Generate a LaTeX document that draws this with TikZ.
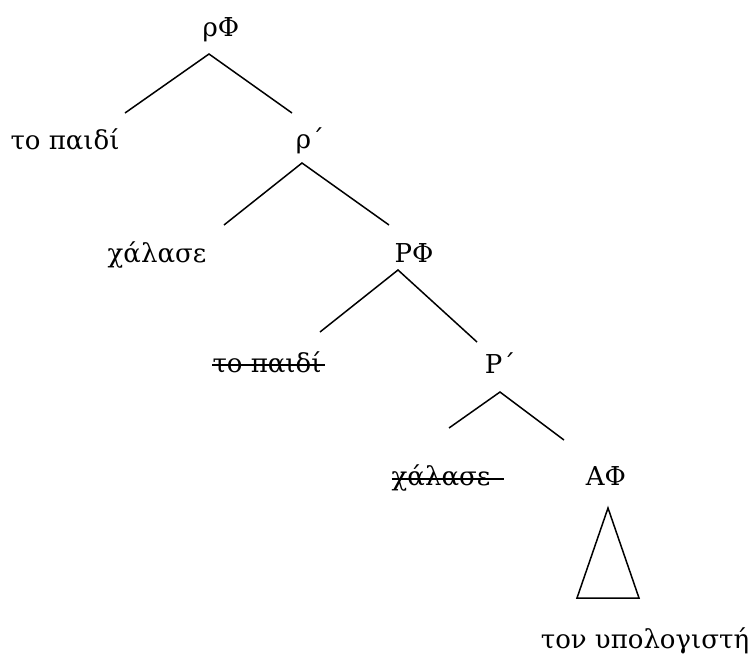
\documentclass[tikz,border=0pt]{standalone}
\usepackage{fontspec}
\setmainfont{DejaVu Serif}
\begin{document}
\begin{tikzpicture}[
    x=1pt, y=-1pt,
    font=\fontsize{26}{31}\selectfont,
    lbl/.style={anchor=base, inner sep=0pt},
    kante/.style={line width=1.5pt},
    strich/.style={line width=1.4pt}
  ]
  \useasboundingbox (0,0) rectangle (753,664);
  % labels
  \node[lbl] (rphi) at (221,36) {ρΦ};
  \node[lbl] (paidi) at (65,149) {το παιδί};
  \node[lbl] (rbar) at (310,148) {ρ΄};
  \node[lbl] (halase) at (157,262) {χάλασε};
  \node[lbl] (Pphi) at (414,262) {PΦ};
  \node[lbl] (paidit) at (267,372) {το παιδί};
  \node[lbl] (Pbar) at (500,373) {P΄};
  \node[lbl] (halaset) at (441,485) {χάλασε};
  \node[lbl] (Aphi) at (606,485) {AΦ};
  \node[lbl] (ypol) at (645,648) {τον υπολογιστή};
  % branch points
  \coordinate (k1) at (209,54);   \coordinate (k1l) at (125,113); \coordinate (k1r) at (292,113);
  \coordinate (k2) at (302,163);  \coordinate (k2l) at (224,225); \coordinate (k2r) at (389,225);
  \coordinate (k3) at (398,270);  \coordinate (k3l) at (320,332); \coordinate (k3r) at (477,342);
  \coordinate (k4) at (500,392);  \coordinate (k4l) at (449,428); \coordinate (k4r) at (564,440);
  \draw[kante] (k1l) -- (k1) -- (k1r);
  \draw[kante] (k2l) -- (k2) -- (k2r);
  \draw[kante] (k3l) -- (k3) -- (k3r);
  \draw[kante] (k4l) -- (k4) -- (k4r);
  % triangle under AΦ
  \coordinate (t) at (608,508);
  \coordinate (tl) at (577,598);
  \coordinate (tr) at (639,598);
  \draw[kante] (t) -- (tl) -- (tr) -- cycle;
  % struck copies
  \draw[strich] ([yshift=7pt]paidit.base west) -- ([xshift=3pt,yshift=7pt]paidit.base east);
  \draw[strich] ([yshift=6pt]halaset.base west) -- ([xshift=14pt,yshift=6pt]halaset.base east);
\end{tikzpicture}
\end{document}
